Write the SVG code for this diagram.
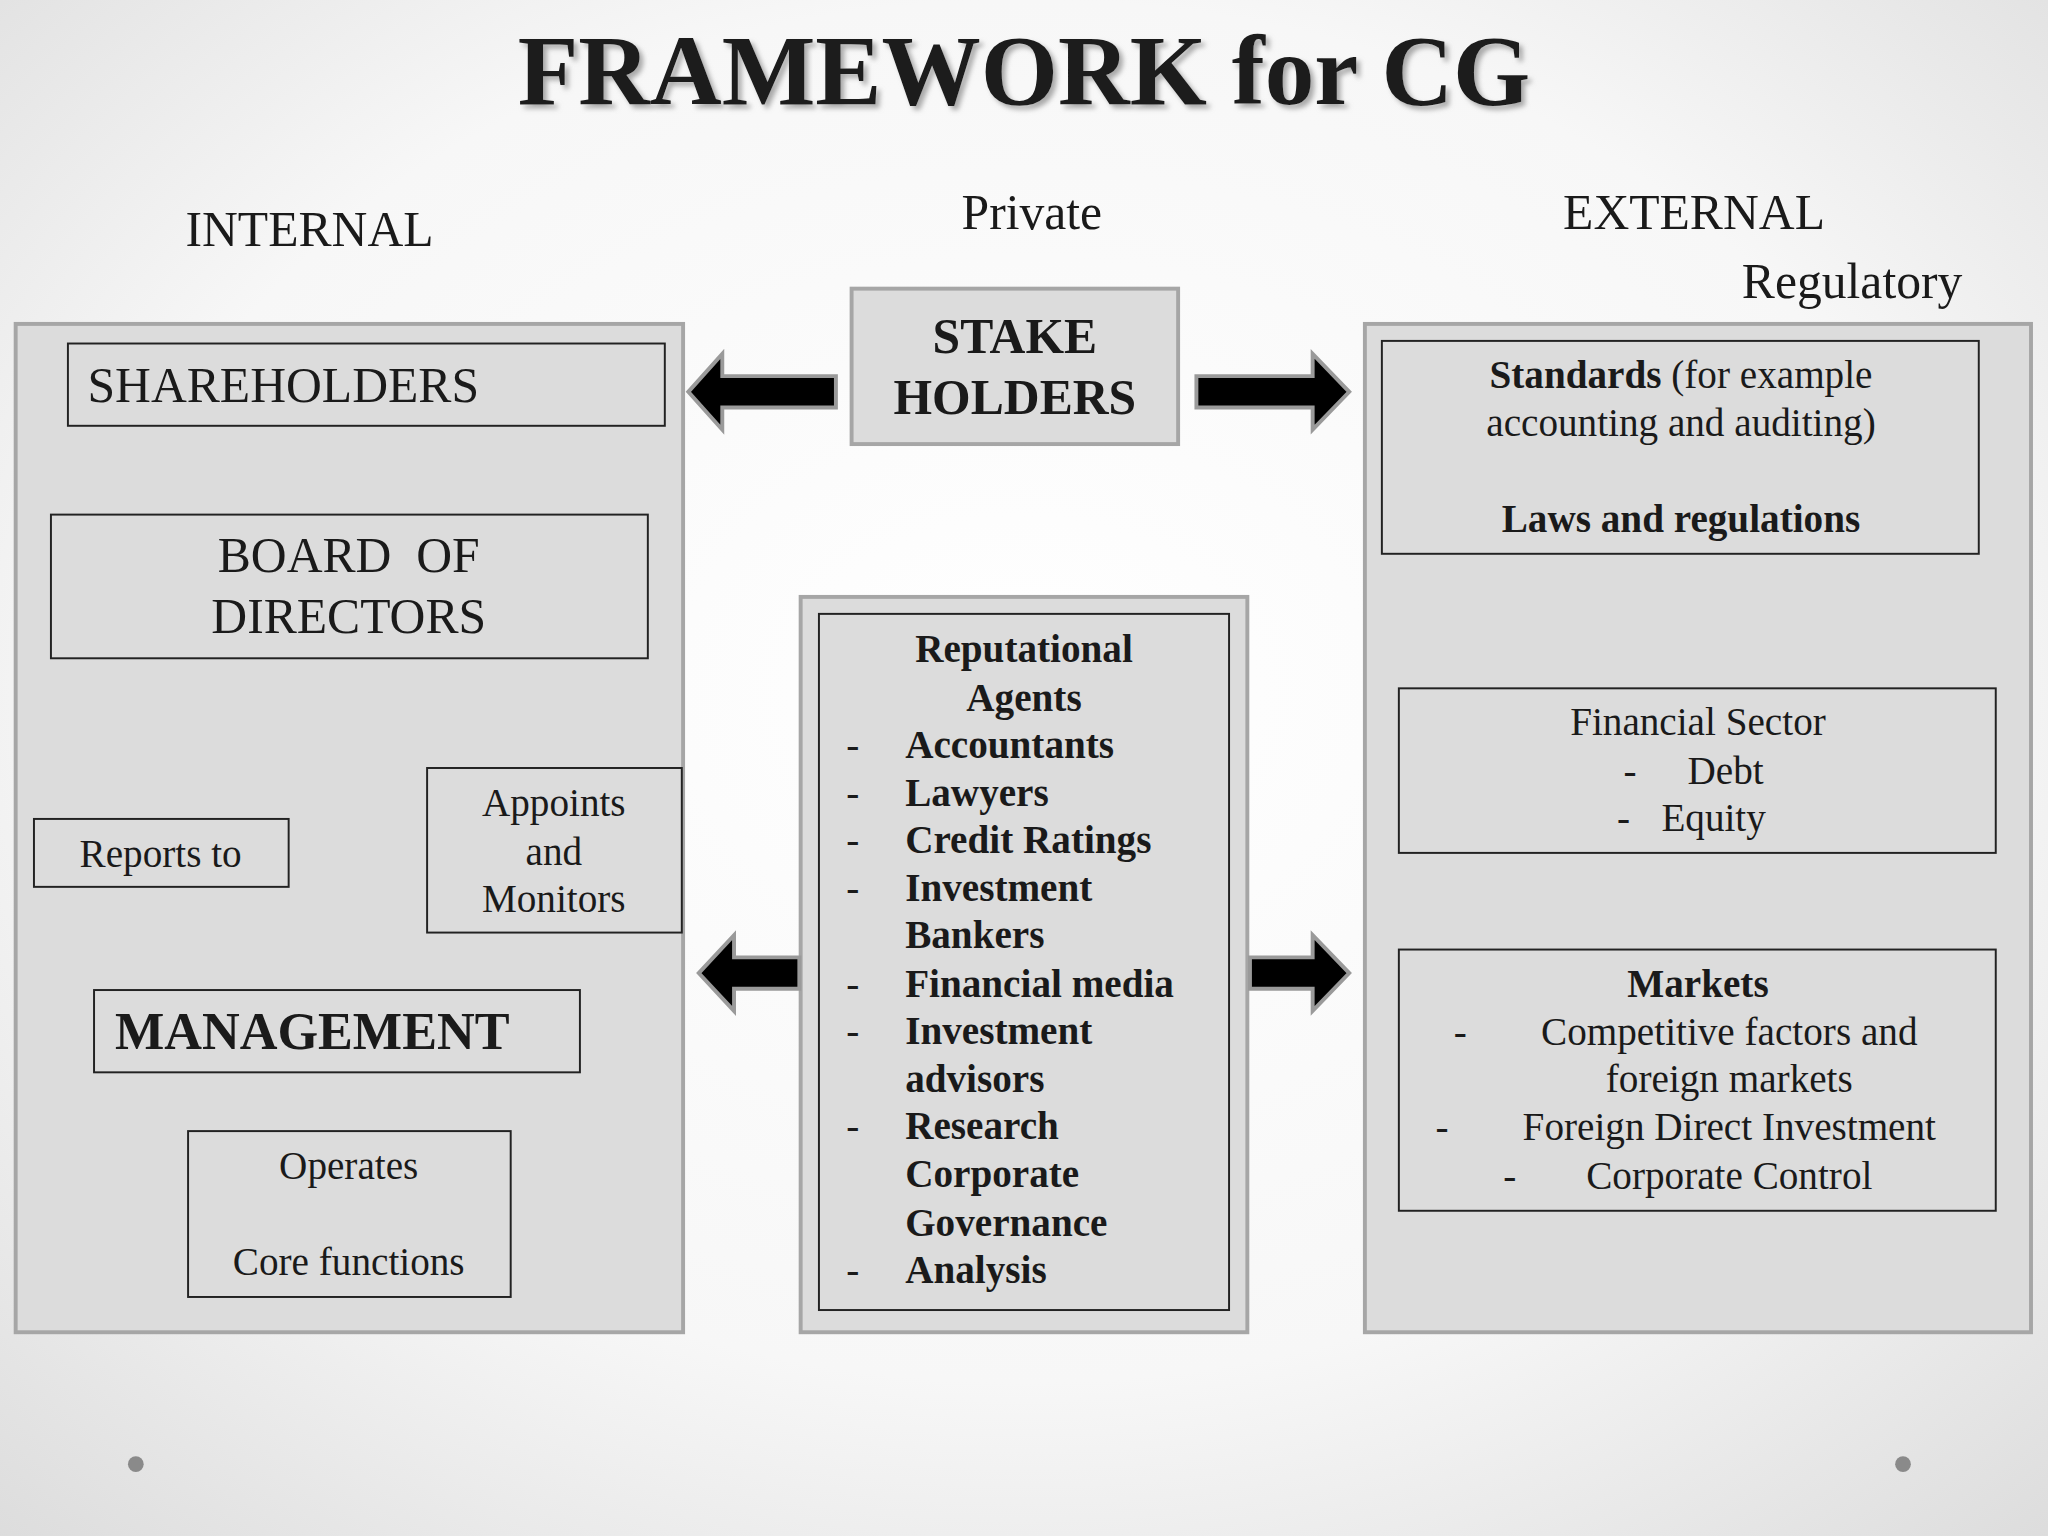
<svg xmlns="http://www.w3.org/2000/svg" width="2048" height="1536" viewBox="0 0 2048 1536">
<defs>
<radialGradient id="bg" cx="50%" cy="45%" r="75%"><stop offset="0" stop-color="#ffffff"/><stop offset="0.6" stop-color="#f7f7f7"/><stop offset="1" stop-color="#dcdcdc"/></radialGradient>
<filter id="sh"><feDropShadow dx="3" dy="3" stdDeviation="2" flood-color="#888" flood-opacity="0.7"/></filter>
<style>
text{font-family:"Liberation Serif","DejaVu Serif",serif;fill:#1a1a1a}
.big{fill:#dcdcdc;stroke:#a6a6a6;stroke-width:3}
.box{fill:none;stroke:#222;stroke-width:1.5}
.b{font-weight:bold}
.c{text-anchor:middle}
.arr{fill:#000;stroke:#9a9a9a;stroke-width:3}
</style>
</defs>
<rect width="2048" height="1536" fill="url(#bg)"/>
<g transform="scale(1.30612)">
<text x="784" y="80" class="b c" font-size="76" filter="url(#sh)">FRAMEWORK for CG</text>
<text x="237" y="188" class="c" font-size="38">INTERNAL</text>
<text x="790" y="175" class="c" font-size="38">Private</text>
<text x="1297" y="175" class="c" font-size="38">EXTERNAL</text>
<text x="1418" y="228" class="c" font-size="38">Regulatory</text>

<g id="internal">
<rect x="12" y="248" width="511" height="772" class="big"/>
<g id="shareholders"><rect x="52" y="263" width="457" height="63" class="box"/><text x="67" y="308" font-size="38">SHAREHOLDERS</text></g>
<g id="board"><rect x="39" y="394" width="457" height="110" class="box"/><text x="267" y="438" class="c" font-size="38" xml:space="preserve">BOARD  OF</text><text x="267" y="485" class="c" font-size="38">DIRECTORS</text></g>
<g id="reports"><rect x="26" y="627" width="195" height="52" class="box"/><text x="123" y="664" class="c" font-size="30">Reports to</text></g>
<g id="appoints"><rect x="327" y="588" width="195" height="126" class="box"/><text x="424" y="625" class="c" font-size="30">Appoints</text><text x="424" y="662" class="c" font-size="30">and</text><text x="424" y="698" class="c" font-size="30">Monitors</text></g>
<g id="management"><rect x="72" y="758" width="372" height="63" class="box"/><text x="88" y="803" class="b" font-size="40">MANAGEMENT</text></g>
<g id="operates"><rect x="144" y="866" width="247" height="127" class="box"/><text x="267" y="903" class="c" font-size="30">Operates</text><text x="267" y="976" class="c" font-size="30">Core functions</text></g>
</g>

<g id="stakeholders"><rect x="652" y="221" width="250" height="119" class="big"/><text x="777" y="270" class="b c" font-size="38">STAKE</text><text x="777" y="317" class="b c" font-size="38">HOLDERS</text></g>

<g id="agents">
<rect x="613" y="457" width="342" height="563" class="big"/>
<rect x="627" y="470" width="314" height="533" class="box"/>
<g font-size="30">
<text x="784" y="507" class="b c">Reputational</text>
<text x="784" y="544" class="b c">Agents</text>
<g class="b">
<text x="693" y="580">Accountants</text>
<text x="693" y="617">Lawyers</text>
<text x="693" y="653">Credit Ratings</text>
<text x="693" y="690">Investment</text>
<text x="693" y="726">Bankers</text>
<text x="693" y="763">Financial media</text>
<text x="693" y="799">Investment</text>
<text x="693" y="836">advisors</text>
<text x="693" y="872">Research</text>
<text x="693" y="909">Corporate</text>
<text x="693" y="946">Governance</text>
<text x="693" y="982">Analysis</text>
</g>
<text x="648" y="580">-</text><text x="648" y="617">-</text><text x="648" y="653">-</text><text x="648" y="690">-</text><text x="648" y="763">-</text><text x="648" y="799">-</text><text x="648" y="872">-</text><text x="648" y="982">-</text>
</g>
</g>

<g id="external">
<rect x="1045" y="248" width="510" height="772" class="big"/>
<g id="standards"><rect x="1058" y="261" width="457" height="163" class="box"/>
<text x="1287" y="297" class="c" font-size="30"><tspan font-weight="bold">Standards</tspan> (for example</text>
<text x="1287" y="334" class="c" font-size="30">accounting and auditing)</text>
<text x="1287" y="407" class="b c" font-size="30">Laws and regulations</text></g>
<g id="financial"><rect x="1071" y="527" width="457" height="126" class="box"/>
<text x="1300" y="563" class="c" font-size="30">Financial Sector</text>
<text x="1248" y="600" class="c" font-size="30">-</text><text x="1292" y="600" font-size="30">Debt</text>
<text x="1243" y="636" class="c" font-size="30">-</text><text x="1272" y="636" font-size="30">Equity</text></g>
<g id="markets"><rect x="1071" y="727" width="457" height="200" class="box"/>
<text x="1300" y="763" class="b c" font-size="30">Markets</text>
<text x="1118" y="800" class="c" font-size="30">-</text><text x="1324" y="800" class="c" font-size="30">Competitive factors and</text>
<text x="1324" y="836" class="c" font-size="30">foreign markets</text>
<text x="1104" y="873" class="c" font-size="30">-</text><text x="1324" y="873" class="c" font-size="30">Foreign Direct Investment</text>
<text x="1156" y="910" class="c" font-size="30">-</text><text x="1324" y="910" class="c" font-size="30">Corporate Control</text></g>
</g>

<g id="connectors">
<path class="arr" d="M640,288 L553,288 L553,271 L527,300 L553,329 L553,312 L640,312 Z"/>
<path class="arr" d="M916,288 L1005,288 L1005,271 L1033,300 L1005,329 L1005,312 L916,312 Z"/>
<path class="arr" d="M612,733 L562,733 L562,716 L535,745 L562,774 L562,757 L612,757 Z"/>
<path class="arr" d="M957,733 L1005,733 L1005,716 L1033,745 L1005,774 L1005,757 L957,757 Z"/>
</g>
<circle cx="104" cy="1121" r="6" fill="#8a8a8a"/>
<circle cx="1457" cy="1121" r="6" fill="#8a8a8a"/>
</g>
</svg>
